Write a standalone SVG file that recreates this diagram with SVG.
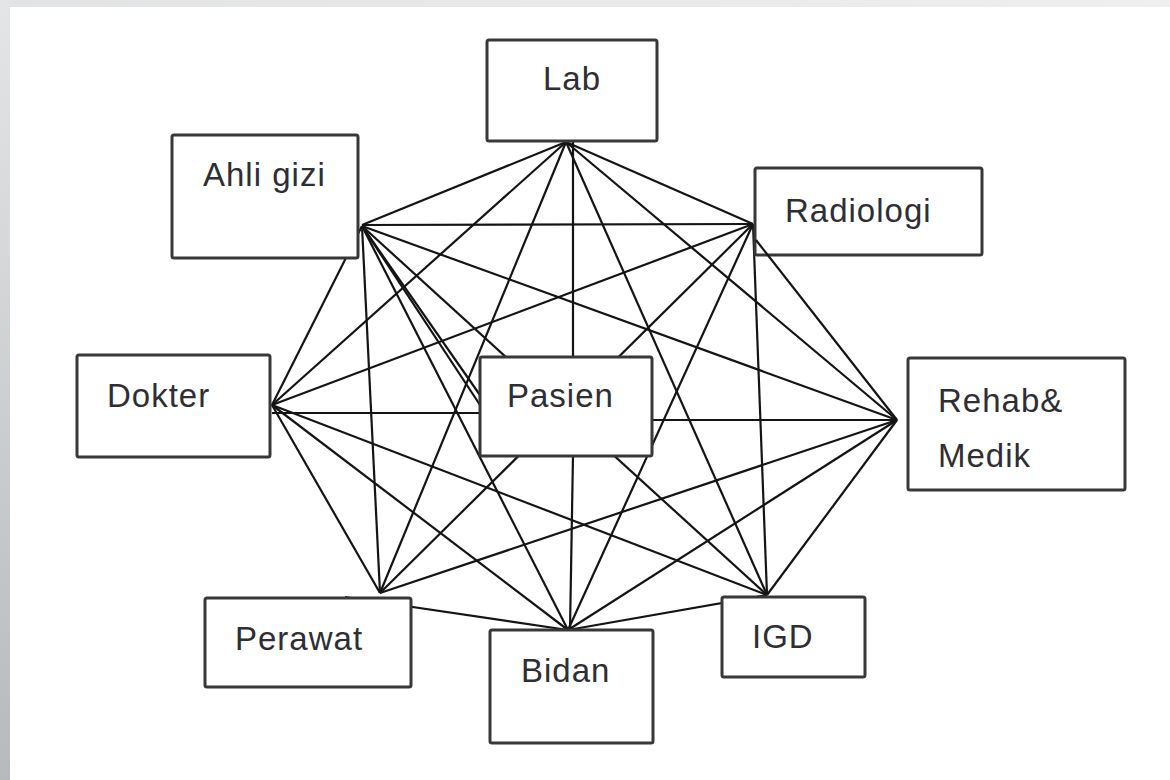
<svg xmlns="http://www.w3.org/2000/svg" width="1170" height="780" viewBox="0 0 1170 780">
<defs>
<linearGradient id="side" x1="0" y1="0" x2="0" y2="1">
<stop offset="0" stop-color="#e4e5e6"/>
<stop offset="1" stop-color="#b6babd"/>
</linearGradient>
<linearGradient id="top" x1="0" y1="0" x2="1" y2="0">
<stop offset="0" stop-color="#e2e3e4"/>
<stop offset="1" stop-color="#efefef"/>
</linearGradient>
</defs>
<style>
.box{fill:#ffffff;stroke:#383838;stroke-width:3;}
.edge{stroke:#141414;stroke-width:2.2;fill:none;}
.lbl{font-family:"Liberation Sans",Arial,sans-serif;font-size:33px;letter-spacing:1px;fill:#2e2e33;}
</style>
<rect x="0" y="0" width="1170" height="780" fill="#ffffff"/>
<rect x="0" y="0" width="1170" height="7" fill="url(#top)"/>
<rect x="0" y="0" width="10" height="780" fill="url(#side)"/>
<g id="connectors">
<line class="edge" x1="566" y1="142" x2="362" y2="225"/>
<line class="edge" x1="566" y1="142" x2="272" y2="405"/>
<line class="edge" x1="566" y1="142" x2="380" y2="593"/>
<line class="edge" x1="566" y1="142" x2="753" y2="224"/>
<line class="edge" x1="566" y1="142" x2="897" y2="420"/>
<line class="edge" x1="566" y1="142" x2="767" y2="595"/>
<line class="edge" x1="573" y1="141" x2="573" y2="358"/>
<line class="edge" x1="362" y1="225" x2="753" y2="224"/>
<line class="edge" x1="362" y1="226" x2="272" y2="405"/>
<line class="edge" x1="362" y1="226" x2="380" y2="593"/>
<line class="edge" x1="362" y1="226" x2="568" y2="630"/>
<line class="edge" x1="362" y1="226" x2="767" y2="595"/>
<line class="edge" x1="362" y1="226" x2="897" y2="420"/>
<line class="edge" x1="362" y1="226" x2="482" y2="398"/>
<line class="edge" x1="366" y1="232" x2="482" y2="408"/>
<line class="edge" x1="753" y1="224" x2="767" y2="595"/>
<line class="edge" x1="753" y1="224" x2="568" y2="630"/>
<line class="edge" x1="753" y1="224" x2="380" y2="593"/>
<line class="edge" x1="753" y1="224" x2="272" y2="405"/>
<line class="edge" x1="897" y1="420" x2="380" y2="593"/>
<line class="edge" x1="897" y1="420" x2="568" y2="630"/>
<line class="edge" x1="897" y1="420" x2="767" y2="595"/>
<line class="edge" x1="897" y1="420" x2="651" y2="420"/>
<line class="edge" x1="272" y1="405" x2="380" y2="593"/>
<line class="edge" x1="272" y1="405" x2="568" y2="630"/>
<line class="edge" x1="272" y1="405" x2="767" y2="595"/>
<line class="edge" x1="272" y1="413" x2="484" y2="413"/>
<line class="edge" x1="345" y1="597" x2="568" y2="630"/>
<line class="edge" x1="568" y1="630" x2="767" y2="595"/>
<line class="edge" x1="573" y1="455" x2="570" y2="630"/>
</g>
<g id="node-lab">
<rect class="box" x="487" y="40" width="170" height="101" rx="2"/>
<text class="lbl" x="543" y="90">Lab</text>
</g>
<g id="node-ahli-gizi">
<rect class="box" x="172" y="135" width="186" height="123" rx="2"/>
<text class="lbl" x="203" y="186">Ahli gizi</text>
</g>
<g id="node-radiologi">
<rect class="box" x="755" y="168" width="227" height="87" rx="2"/>
<text class="lbl" x="785" y="222">Radiologi</text>
</g>
<g id="node-rehab-medik">
<rect class="box" x="908" y="358" width="217" height="132" rx="2"/>
<text class="lbl" x="938" y="412">Rehab&amp;</text>
<text class="lbl" x="938" y="467">Medik</text>
</g>
<g id="node-dokter">
<rect class="box" x="77" y="355" width="193" height="102" rx="2"/>
<text class="lbl" x="107" y="407">Dokter</text>
</g>
<g id="node-pasien">
<rect class="box" x="480" y="357" width="172" height="99" rx="2"/>
<text class="lbl" x="507" y="407">Pasien</text>
</g>
<g id="node-perawat">
<rect class="box" x="205" y="598" width="206" height="89" rx="2"/>
<text class="lbl" x="235" y="650">Perawat</text>
</g>
<g id="node-bidan">
<rect class="box" x="490" y="630" width="163" height="113" rx="2"/>
<text class="lbl" x="521" y="682">Bidan</text>
</g>
<g id="node-igd">
<rect class="box" x="722" y="597" width="143" height="80" rx="2"/>
<text class="lbl" x="752" y="648">IGD</text>
</g>
<g id="connector-overlay">
<line class="edge" x1="756" y1="240" x2="897" y2="420"/>
</g>
</svg>
